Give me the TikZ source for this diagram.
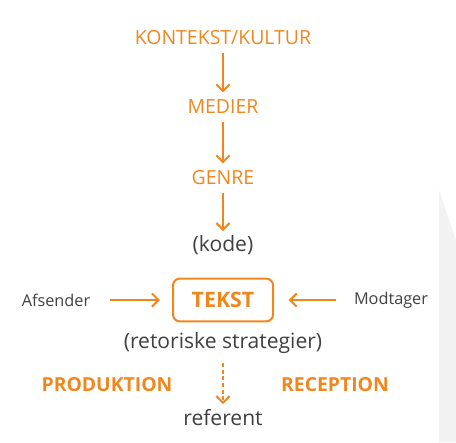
\documentclass[tikz,border=0pt]{standalone}
\usepackage{fontspec}
\setmainfont{Open Sans}
\usepackage{tikz}
\usetikzlibrary{arrows.meta}
\definecolor{kulorange}{HTML}{F0871E}
\definecolor{tekstgraa}{HTML}{404040}
\definecolor{baggrund}{HTML}{F2F2F2}
\tikzset{
  niveau/.style={text=kulorange, font=\fontsize{14.6}{15}\selectfont, inner sep=0pt, text height=9.5pt, text depth=0pt},
  fed/.style={text=kulorange, font=\fontsize{14.5}{15}\selectfont\bfseries, inner sep=0pt},
  graa/.style={text=tekstgraa, font=\fontsize{15.8}{16}\selectfont, inner sep=0pt},
  lille/.style={text=tekstgraa, font=\fontsize{12.2}{12}\selectfont, inner sep=0pt},
  pil/.style={draw=kulorange, line width=1.5pt, -{Straight Barb[length=5pt, width=10pt, line width=1.5pt]}},
}
\begin{document}
\begin{tikzpicture}[x=0.75pt, y=-0.75pt]
			\useasboundingbox (0,0) rectangle (456,442);
			\fill[baggrund] (439,190) -- (456,240) -- (456,442) -- (439,442) -- cycle;
			\node[niveau] (kontekst) at (223,38) {KONTEKST/KULTUR};
			\node[niveau] (medier) at (223,107) {MEDIER};
			\node[niveau] (genre) at (223,178) {GENRE};
			\node[graa] (kode) at (223,245) {(kode)};
			\node[draw=kulorange, line width=1.5pt, rounded corners=5pt, minimum width=75pt, minimum height=32pt, text=kulorange, font=\fontsize{16}{16}\selectfont\bfseries] (tekst) at (223,300) {TEKST};
			\node[lille] (afsender) at (56,300) {Afsender};
			\node[lille] (modtager) at (391,300) {Modtager};
			\node[graa] (strategier) at (223,343) {(retoriske strategier)};
			\node[fed] (produktion) at (107,385) {PRODUKTION};
			\node[fed] (reception) at (335,385) {RECEPTION};
			\node[graa] (referent) at (223,418) {referent};
			\draw[pil, shorten <=6pt, shorten >=6pt] (kontekst) -- (medier);
			\draw[pil, shorten <=6pt, shorten >=6pt] (medier) -- (genre);
			\draw[pil, shorten <=6pt, shorten >=3pt] (genre) -- (kode);
			\draw[pil, shorten <=15pt, shorten >=9pt] (afsender) -- (tekst);
			\draw[pil, shorten <=13pt, shorten >=11pt] (modtager) -- (tekst);
			\draw[pil, dash pattern=on 3pt off 2pt, shorten <=7pt, shorten >=4pt] (strategier) -- (referent);
		\end{tikzpicture}
\end{document}
